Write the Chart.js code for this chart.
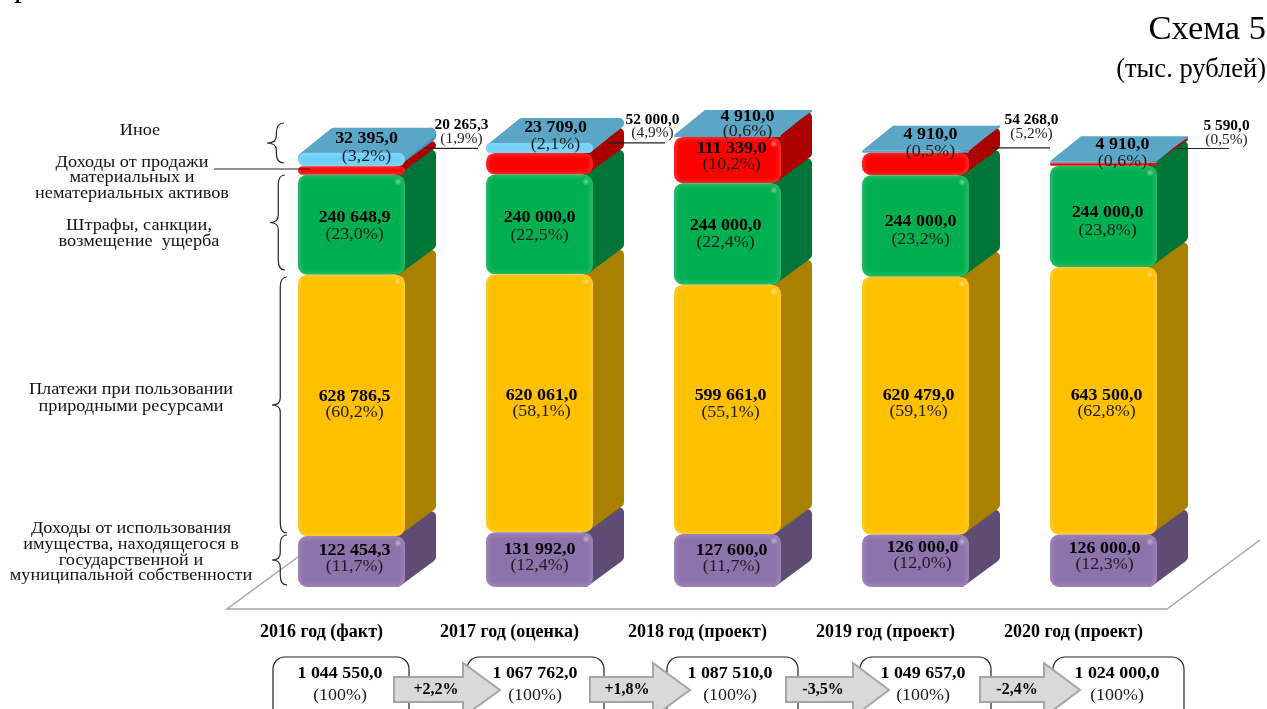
<!DOCTYPE html>
<html lang="ru">
<head>
<meta charset="utf-8">
<title>Схема 5</title>
<style>
    html, body { margin: 0; padding: 0; background: #ffffff; overflow: hidden; }
    canvas { display: block; }
</style>
<script src="https://cdn.jsdelivr.net/npm/chart.js@4"></script>
</head>
<body>
<canvas id="schemeChart" width="1267" height="709"></canvas>
<script>
// Data
const years = ['2016 год (факт)', '2017 год (оценка)', '2018 год (проект)', '2019 год (проект)', '2020 год (проект)'];
const propertyIncome = [122454.3, 131992.0, 127600.0, 126000.0, 126000.0];
const resourcePayments = [628786.5, 620061.0, 599661.0, 620479.0, 643500.0];
const fines = [240648.9, 240000.0, 244000.0, 244000.0, 244000.0];
const assetSales = [20265.3, 52000.0, 111339.0, 54268.0, 5590.0];
const otherIncome = [32395.0, 23709.0, 4910.0, 4910.0, 4910.0];

const propertyShare = ['11,7', '12,4', '11,7', '12,0', '12,3'];
const resourceShare = ['60,2', '58,1', '55,1', '59,1', '62,8'];
const finesShare = ['23,0', '22,5', '22,4', '23,2', '23,8'];
const assetShare = ['1,9', '4,9', '10,2', '5,2', '0,5'];
const otherShare = ['3,2', '2,1', '0,6', '0,5', '0,6'];

const totals = [1044550.0, 1067762.0, 1087510.0, 1049657.0, 1024000.0];
const growth = ['+2,2%', '+1,8%', '-3,5%', '-2,4%'];

const FONT = '"Liberation Serif", "Times New Roman", serif';
const DEPTH_X = 31;
const DEPTH_Y = -25;
const PLATE = '#5BA6C6';
// the picture was widened when it was scanned, the letters are wider than they are tall
const WIDE = 1.12;

const seriesStyle = [
    { front: '#8D73AB', side: '#5E4C74' },
    { front: '#FFC000', side: '#AA8000' },
    { front: '#00B050', side: '#007537' },
    { front: '#FF0000', side: '#AB0000' },
    { front: '#6ECFF6', side: '#4A8FAC' },
];

// label offsets from the middle of each segment: [dx, dy of the value line, gap to the share line]
const labelShift = [
    [[3, -11, 16], [0, -10, 16], [4, -10, 16], [7, -13, 16], [1, -12, 16]],
    [[3, -9, 16], [2, -7, 16], [3, -13, 16], [3, -10, 16], [3, -5, 16]],
    [[3, -7, 17], [0, -7, 18], [-2, -8, 17], [5, -4, 18], [4, -4, 18]],
    [[110, -45, 14], [113, -43, 13], [4, -11, 16], [116, -44, 14], [123, -38, 14]],
    [[15, -21, 18], [16, -20, 17], [20, -19, 15], [15, -17, 17], [19, -17, 16]],
];
// leader lines of the small red segments: [from bar edge, to bar edge, dy from segment middle]
const leaders = [[21, 73, -22], [15, 72, -21], null, [23, 81, -16], [20, 72, -16]];

const sideLabels = [
    { lines: ['Иное'], x: 140, y: [131] },
    { lines: ['Доходы от продажи', 'материальных и', 'нематериальных активов'], x: 132, y: [163, 178, 194] },
    { lines: ['Штрафы, санкции,', 'возмещение  ущерба'], x: 139, y: [226, 242] },
    { lines: ['Платежи при пользовании', 'природными ресурсами'], x: 131, y: [390, 407] },
    { lines: ['Доходы от использования', 'имущества, находящегося в', 'государственной и', 'муниципальной собственности'], x: 131, y: [529, 545, 561, 576] },
];
const braces = [[284, 123, 163, 267], [285, 175, 270, 270], [287, 277, 533, 272], [287, 535, 585, 272]];

const boxLeft = [273, 467, 667, 860, 1053];
const boxRight = [409, 604, 798, 991, 1184];
const boxText = [340, 535, 730, 923, 1117];
const arrowLeft = [394, 590, 786, 980];
const arrowHead = [463, 653, 853, 1044];
const arrowTip = [500, 690, 889, 1080];
const arrowText = [436, 627, 823, 1017];

function money(value) {
    const parts = value.toFixed(1).split('.');
    return parts[0].replace(/\B(?=(\d{3})+$)/g, ' ') + ',' + parts[1];
}

function text(ctx, str, x, y, font, color, align, stretch) {
    ctx.save();
    ctx.translate(x, y);
    ctx.scale(stretch || 1, 1);
    ctx.font = font;
    ctx.fillStyle = color || '#000000';
    ctx.textAlign = align || 'center';
    ctx.textBaseline = 'middle';
    ctx.fillText(str, 0, 0);
    ctx.restore();
}

function segment(chart, series, index) {
    return chart.getDatasetMeta(series).data[index].getProps(['x', 'y', 'base', 'width'], true);
}

function drawSide(ctx, bar, color) {
    const right = bar.x + bar.width / 2;
    const r = Math.min(5, (bar.base - bar.y) / 2);
    ctx.fillStyle = color;
    ctx.strokeStyle = color;
    ctx.lineWidth = r * 2;
    ctx.lineJoin = 'round';
    ctx.beginPath();
    ctx.moveTo(right - 8, bar.y + r);
    ctx.lineTo(right + DEPTH_X - r, bar.y + DEPTH_Y + r);
    ctx.lineTo(right + DEPTH_X - r, bar.base + DEPTH_Y - r);
    ctx.lineTo(right - 8, bar.base - r);
    ctx.closePath();
    ctx.fill();
    ctx.stroke();
}

function drawPlate(ctx, bar, rounded) {
    const left = bar.x - bar.width / 2;
    const right = bar.x + bar.width / 2;
    const r = rounded ? 5 : 0;
    ctx.fillStyle = PLATE;
    ctx.strokeStyle = PLATE;
    ctx.lineWidth = r * 2;
    ctx.lineJoin = 'round';
    ctx.beginPath();
    ctx.moveTo(left + r, bar.y + r);
    ctx.lineTo(right - r, bar.y + r);
    ctx.lineTo(right + DEPTH_X - r, bar.y + DEPTH_Y + r);
    ctx.lineTo(left + DEPTH_X + r, bar.y + DEPTH_Y + r);
    ctx.closePath();
    ctx.fill();
    if (rounded) ctx.stroke();
}

function drawRim(ctx, bar) {
    const h = bar.base - bar.y;
    if (h < 6) return;
    const left = bar.x - bar.width / 2;
    ctx.save();
    ctx.beginPath();
    ctx.roundRect(left, bar.y, bar.width, h, Math.min(9, h / 2));
    ctx.clip();
    // soft bevel along the edge
    [[10, 0.04], [6, 0.05], [3, 0.05]].forEach(band => {
        ctx.strokeStyle = 'rgba(255,255,255,' + band[1] + ')';
        ctx.lineWidth = band[0];
        ctx.beginPath();
        ctx.roundRect(left, bar.y, bar.width, h, Math.min(9, h / 2));
        ctx.stroke();
    });
    ctx.restore();
    if (h > 30) {
        const hx = left + bar.width - 7;
        const hy = bar.y + 7;
        const glow = ctx.createRadialGradient(hx, hy, 0, hx, hy, 4);
        glow.addColorStop(0, 'rgba(255,255,255,0.45)');
        glow.addColorStop(1, 'rgba(255,255,255,0)');
        ctx.fillStyle = glow;
        ctx.fillRect(hx - 4, hy - 4, 8, 8);
    }
}

function drawBrace(ctx, x, top, bottom, tipX) {
    const mid = (top + bottom) / 2;
    const bend = x - (x - tipX) * 0.45;
    ctx.beginPath();
    ctx.moveTo(x, top);
    ctx.quadraticCurveTo(bend, top, bend, top + 10);
    ctx.lineTo(bend, mid - 7);
    ctx.quadraticCurveTo(bend, mid, tipX, mid);
    ctx.quadraticCurveTo(bend, mid, bend, mid + 7);
    ctx.lineTo(bend, bottom - 10);
    ctx.quadraticCurveTo(bend, bottom, x, bottom);
    ctx.stroke();
}

function drawArrow(ctx, i) {
    const left = arrowLeft[i];
    const head = arrowHead[i];
    const tip = arrowTip[i];
    ctx.beginPath();
    ctx.moveTo(left, 677);
    ctx.lineTo(head, 677);
    ctx.lineTo(head, 663);
    ctx.lineTo(tip, 690);
    ctx.lineTo(head, 717);
    ctx.lineTo(head, 702);
    ctx.lineTo(left, 702);
    ctx.closePath();
    ctx.fillStyle = '#D9D9D9';
    ctx.strokeStyle = '#A6A6A6';
    ctx.lineWidth = 2;
    ctx.fill();
    ctx.stroke();
}

const scheme3d = {
    id: 'scheme3d',
    // Chart.js keeps the inner stack segments square, the picture rounds all of them
    afterDatasetsUpdate(chart) {
        chart.data.datasets.forEach((ds, i) => {
            chart.getDatasetMeta(i).data.forEach(el => { el.enableBorderRadius = true; });
        });
    },
    beforeDatasetsDraw(chart) {
        const ctx = chart.ctx;
        ctx.save();
        // floor
        ctx.strokeStyle = '#A6A6A6';
        ctx.lineWidth = 1.5;
        ctx.beginPath();
        ctx.moveTo(298, 557);
        ctx.lineTo(227, 609);
        ctx.lineTo(1167, 609);
        ctx.lineTo(1260, 540);
        ctx.stroke();
        // side faces and the top plate
        years.forEach((year, j) => {
            seriesStyle.forEach((style, i) => drawSide(ctx, segment(chart, i, j), style.side));
            drawPlate(ctx, segment(chart, 4, j), otherIncome[j] > 10000);
        });
        ctx.restore();
    },
    afterDatasetsDraw(chart) {
        const ctx = chart.ctx;
        const shares = [propertyShare, resourceShare, finesShare, assetShare, otherShare];
        ctx.save();
        years.forEach((year, j) => {
            seriesStyle.forEach((style, i) => drawRim(ctx, segment(chart, i, j)));
        });

        // leader lines
        ctx.strokeStyle = '#222222';
        ctx.lineWidth = 1.2;
        ctx.beginPath();
        ctx.moveTo(214, 169);
        ctx.lineTo(310, 169);
        leaders.forEach((leader, j) => {
            if (!leader) return;
            const bar = segment(chart, 3, j);
            const edge = bar.x + bar.width / 2;
            const y = (bar.y + bar.base) / 2 + leader[2];
            ctx.moveTo(edge + leader[0], y);
            ctx.lineTo(edge + leader[1], y);
        });
        ctx.stroke();

        // value labels
        chart.data.datasets.forEach((ds, i) => {
            ds.data.forEach((value, j) => {
                const bar = segment(chart, i, j);
                const shift = labelShift[i][j];
                const x = bar.x + shift[0];
                const y = (bar.y + bar.base) / 2 + shift[1];
                const outside = i === 3 && leaders[j];
                const size = outside ? 14 : 16;
                text(ctx, money(value), x, y, 'bold ' + size + 'px ' + FONT, '#000000', 'center', outside ? 1.1 : WIDE);
                text(ctx, '(' + shares[i][j] + '%)', x, y + shift[2], size + 'px ' + FONT, '#1c1c1c', 'center', outside ? 1.1 : WIDE);
            });
        });

        // left captions and braces
        sideLabels.forEach(item => {
            item.lines.forEach((line, n) => text(ctx, line, item.x, item.y[n], '16px ' + FONT, '#111111', 'center', 1.14));
        });
        ctx.strokeStyle = '#222222';
        ctx.lineWidth = 1.2;
        braces.forEach(b => drawBrace(ctx, b[0], b[1], b[2], b[3]));
        ctx.restore();
    },
    afterDraw(chart) {
        const ctx = chart.ctx;
        ctx.save();
        text(ctx, 'Схема 5', 1266, 30, '34.5px ' + FONT, '#000000', 'right');
        text(ctx, '(тыс. рублей)', 1266, 70, '26.5px ' + FONT, '#000000', 'right');
        text(ctx, 'р', 22, -12, '32px ' + FONT, '#000000');

        // totals row
        totals.forEach((total, j) => {
            ctx.beginPath();
            ctx.roundRect(boxLeft[j], 657, boxRight[j] - boxLeft[j], 70, 12);
            ctx.fillStyle = '#ffffff';
            ctx.strokeStyle = '#222222';
            ctx.lineWidth = 1.2;
            ctx.fill();
            ctx.stroke();
        });
        growth.forEach((label, j) => {
            drawArrow(ctx, j);
            text(ctx, label, arrowText[j], 690, 'bold 16px ' + FONT, '#000000');
        });
        totals.forEach((total, j) => {
            text(ctx, money(total), boxText[j], 674, 'bold 16px ' + FONT, '#000000', 'center', WIDE);
            text(ctx, '(100%)', boxText[j], 696, '16px ' + FONT, '#1c1c1c', 'center', WIDE);
        });
        ctx.restore();
    },
};

function makeDataset(label, values, style) {
    return {
        label: label,
        data: values,
        backgroundColor: style.front,
        borderWidth: 0,
        borderSkipped: false,
        borderRadius: 9,
    };
}

const schemeChart = new Chart(document.getElementById('schemeChart').getContext('2d'), {
    type: 'bar',
    data: {
        labels: years,
        datasets: [
            makeDataset('Доходы от использования имущества', propertyIncome, seriesStyle[0]),
            makeDataset('Платежи при пользовании природными ресурсами', resourcePayments, seriesStyle[1]),
            makeDataset('Штрафы, санкции, возмещение ущерба', fines, seriesStyle[2]),
            makeDataset('Доходы от продажи активов', assetSales, seriesStyle[3]),
            Object.assign(makeDataset('Иное', otherIncome, seriesStyle[4]), {
                // thin top layers show only the flat plate
                backgroundColor: ctx => (ctx.raw > 10000 ? seriesStyle[4].front : PLATE),
            }),
        ],
    },
    options: {
        responsive: false,
        animation: false,
        layout: {
            padding: { left: 257.5, right: 69.5, top: 5, bottom: 0 },
        },
        datasets: {
            bar: { barPercentage: 107 / 188, categoryPercentage: 1 },
        },
        scales: {
            x: {
                stacked: true,
                grid: { display: false },
                border: { display: false },
                afterFit(scale) { scale.height = 122; },
                ticks: {
                    autoSkip: false,
                    maxRotation: 0,
                    padding: 27,
                    labelOffset: -30,
                    color: '#000000',
                    font: { family: FONT, size: 18, weight: 'bold' },
                },
            },
            y: { stacked: true, display: false, min: 0, max: 1400000 },
        },
        plugins: {
            legend: { display: false },
            tooltip: { enabled: false },
        },
    },
    plugins: [scheme3d],
});
</script>
</body>
</html>
